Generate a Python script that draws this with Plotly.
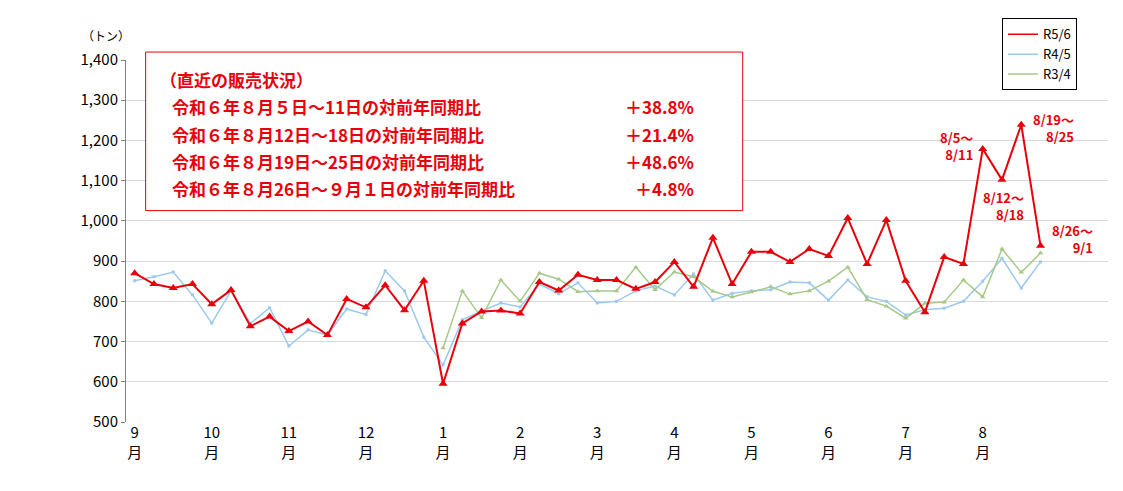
import plotly.graph_objects as go

r56 = [870,843,833,843,793,828,738,762,726,750,716,806,785,840,778,851,595,745,775,777,770,848,827,866,
       853,853,831,848,898,836,958,843,923,923,898,930,913,1007,893,1002,851,773,910,893,1179,1102,1239,938]
r45 = [851,861,873,816,746,826,745,784,689,729,716,781,767,876,826,711,642,754,776,796,786,843,819,846,
       796,800,826,838,816,868,803,820,826,829,848,846,803,853,811,800,766,779,783,800,850,907,833,898]
r34 = [None]*16 + [684,826,759,853,800,870,855,824,
       826,826,885,829,873,861,825,811,823,836,818,826,850,885,804,788,758,795,798,853,811,930,872,920]
x = list(range(48))
month_labels = ["9","10","11","12","1","2","3","4","5","6","7","8"]
tick_pos = list(range(0, 48, 4))

FONT = "Noto Sans CJK JP"
fig = go.Figure()
fig.add_trace(go.Scatter(x=x, y=r45, mode="lines+markers", line=dict(color="#9DC9EE", width=1.5),
                         marker=dict(symbol="square", size=3, color="#9DC9EE"), showlegend=False))
fig.add_trace(go.Scatter(x=x, y=r34, mode="lines+markers", line=dict(color="#A6C98A", width=1.5),
                         marker=dict(symbol="triangle-up", size=5, color="#A6C98A"), showlegend=False))
fig.add_trace(go.Scatter(x=x, y=r56, mode="lines+markers", line=dict(color="#E8000B", width=2),
                         marker=dict(symbol="triangle-up", size=8, color="#E8000B"), showlegend=False))
for name, c in [("R5/6", "#E8000B"), ("R4/5", "#9DC9EE"), ("R3/4", "#A6C98A")]:
    fig.add_trace(go.Scatter(x=[None], y=[None], mode="lines", name=name, line=dict(color=c, width=1.5)))

fig.update_layout(
    width=1123, height=491, plot_bgcolor="white", paper_bgcolor="white",
    margin=dict(l=118, r=23, t=52, b=77, autoexpand=False),
    font=dict(family=FONT, size=14, color="black"),
    legend=dict(x=0.892, y=1.115, xanchor="left", yanchor="top", bordercolor="black", borderwidth=1,
                font=dict(size=13), tracegroupgap=0, itemwidth=30),
    xaxis=dict(range=[-0.45, 50.5], tickvals=tick_pos, ticktext=[m + "<br>月" for m in month_labels],
               showgrid=False, zeroline=False, showline=False, ticks="", tickfont=dict(size=15)),
    yaxis=dict(range=[500, 1400], dtick=100, tickformat=",", gridcolor="#D9D9D9", zeroline=False,
               showline=True, linecolor="#808080", ticks="outside", ticklen=4, tickcolor="#808080",
               tickfont=dict(size=15)),
)
fig.add_annotation(xref="paper", yref="paper", x=-0.02, y=1.04, text="（トン）", showarrow=False,
                   xanchor="center", yanchor="bottom", font=dict(size=12))
fig.add_shape(type="rect", xref="paper", yref="paper", x0=0.02, x1=0.628, y0=0.584, y1=1.022,
              line=dict(color="#E8000B", width=1), fillcolor="white")
lines = ["（直近の販売状況）", "令和６年８月５日～11日の対前年同期比", "令和６年８月12日～18日の対前年同期比",
         "令和６年８月19日～25日の対前年同期比", "令和６年８月26日～９月１日の対前年同期比"]
pcts = ["", "＋38.8%", "＋21.4%", "＋48.6%", "＋4.8%"]
ys = [72, 99, 126, 153, 180]
for i, (t, p, yy) in enumerate(zip(lines, pcts, ys)):
    fy = 1 - (yy - 52) / 362
    fig.add_annotation(xref="paper", yref="paper", x=((150 if i == 0 else 162) - 118) / 982,
                       y=fy, text="<b>" + t + "</b>", showarrow=False, xanchor="left", yanchor="middle",
                       font=dict(size=17, color="#E8000B"))
    if p:
        fig.add_annotation(xref="paper", yref="paper", x=(688 - 118) / 982, y=fy, text="<b>" + p + "</b>",
                           showarrow=False, xanchor="right", yanchor="middle", font=dict(size=17, color="#E8000B"))
ann = [(948, 138, "8/5～<br>8/11"), (995, 198, "8/12～<br>8/18"),
       (1045, 120, "8/19～<br>8/25"), (1064, 231, "8/26～<br>9/1")]
for px, py, t in ann:
    fig.add_annotation(xref="paper", yref="paper", x=(px - 118) / 982, y=1 - (py - 52) / 362,
                       text="<b>" + t + "</b>", showarrow=False, xanchor="center", yanchor="middle",
                       font=dict(size=13, color="#E8000B"), align="right")
fig.write_html("out.html")
